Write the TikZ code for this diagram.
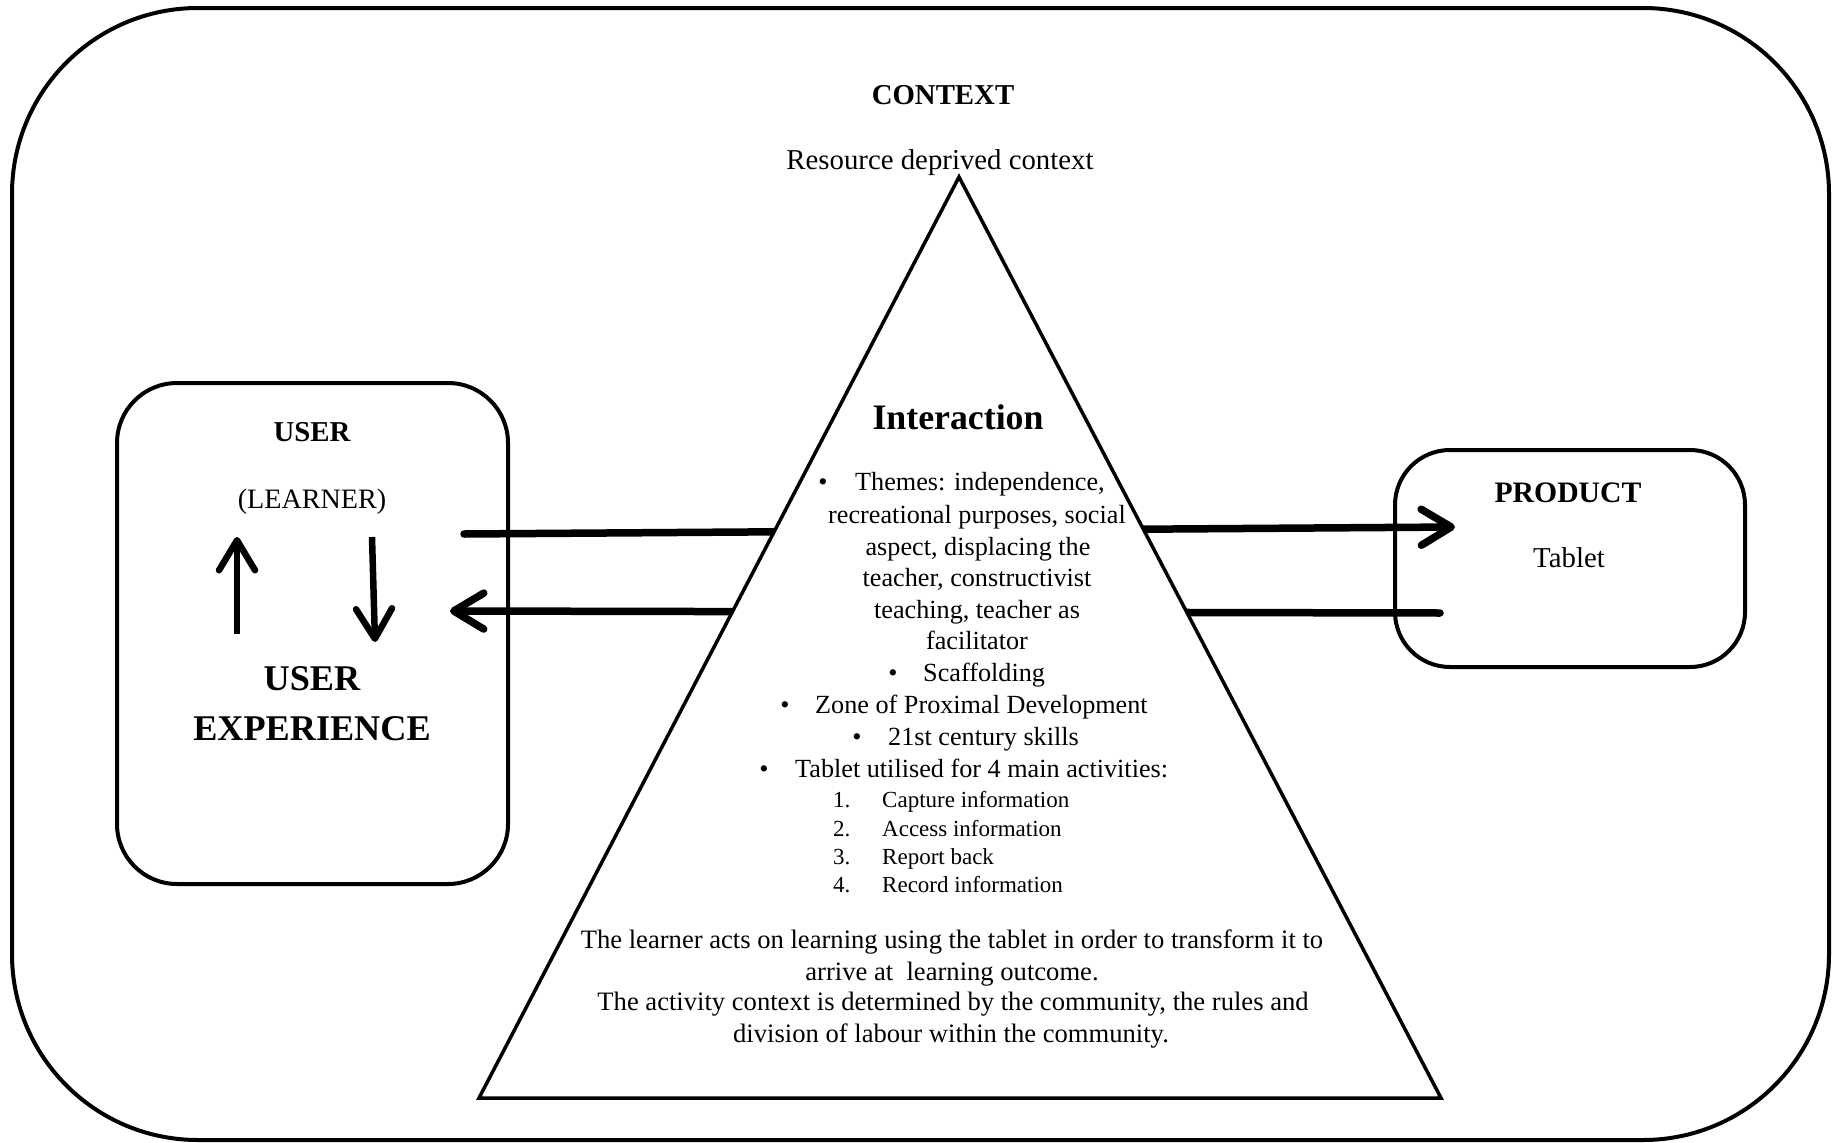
\documentclass[tikz,border=0pt]{standalone}
\usepackage{fontspec}
\setmainfont{Liberation Serif}
\usetikzlibrary{arrows.meta}
\newcommand\fsz[1]{\fontsize{#1pt}{#1pt}\selectfont}
\begin{document}
\begin{tikzpicture}[x=1pt,y=-1pt,
  every node/.style={inner sep=0pt, anchor=base},
  rbox/.style={draw, line width=4pt, rounded corners=#1, anchor=center},
  bigarrow/.style={line width=7.5pt, line cap=round,
    -{Straight Barb[length=30pt,width=36pt,round]}},
  smallarrow/.style={line width=6.5pt,
    -{Straight Barb[length=30pt,width=36pt,round]}},
  tri/.style={draw, line width=3.5pt, fill=white, line join=miter},
  hd/.style={font=\fsz{28.8}\bfseries},
  hdbig/.style={font=\fsz{36.2}\bfseries},
  body/.style={font=\fsz{28.8}},
  item/.style={font=\fsz{26.2}},
  sub/.style={font=\fsz{23}},
  para/.style={font=\fsz{26.6}}
]
\useasboundingbox (0,0) rectangle (1832,1143);

% outer context frame
\node[rbox=186pt, minimum width=1817pt, minimum height=1132pt] (frame) at (920.5,574) {};

% user and product boxes
\node[rbox=60pt, minimum width=391pt, minimum height=501pt] (userbox) at (312.5,633.5) {};
\node[rbox=55pt, minimum width=350pt, minimum height=217pt] (prodbox) at (1570,558.5) {};

% end points of the two long connectors
\coordinate (uout) at (464,534);
\coordinate (pin)  at (1455,527);
\coordinate (pout) at (1440,613);
\coordinate (uin)  at (450,611);
\draw[bigarrow] (uout) -- (pin);
\draw[bigarrow] (pout) -- (uin);

% loop arrows inside the user box
\coordinate (upA) at (237,634);
\coordinate (upB) at (237,537);
\coordinate (dnA) at (372,537);
\coordinate (dnB) at (375,642);
\draw[smallarrow] (upA) -- (upB);
\draw[smallarrow] (dnA) -- (dnB);

% interaction triangle
\coordinate (apex) at (959,177);
\coordinate (bl) at (479,1098);
\coordinate (br) at (1441,1098);
\draw[tri] (apex) -- (bl) -- (br) -- cycle;

% headings
\node[hd] (ctx) at (943,104.5) {CONTEXT};
\node[body] (rdc) at (940,169) {Resource deprived context};
\node[font=\fsz{35.8}\bfseries] (inter) at (958,429) {Interaction};

\node[hd] (user) at (312,441.5) {USER};
\node[font=\fsz{28.1}] (learner) at (312,508) {(LEARNER)};
\node[hdbig] (ux1) at (312,690) {USER};
\node[hdbig] (ux2) at (312,740) {EXPERIENCE};

\node[font=\fsz{29.7}\bfseries] (prod) at (1568,502) {PRODUCT};
\node[body] (tab) at (1569,567) {Tablet};

% bulleted themes
\node[item] (b1) at (823,490) {\textbullet};
\node[item, anchor=base west] (th1) at (855,490) {Themes: independence,};
\node[item] (th2) at (977,523) {recreational purposes, social};
\node[item] (th3) at (978,555) {aspect, displacing the};
\node[item] (th4) at (977,586) {teacher, constructivist};
\node[item] (th5) at (977,618) {teaching, teacher as};
\node[item] (th6) at (977,649) {facilitator};
\node[item] (b2) at (893,681) {\textbullet};
\node[item, anchor=base west] (scaf) at (923,681) {Scaffolding};
\node[item] (b3) at (785,713) {\textbullet};
\node[item, anchor=base west] (zpd) at (815,713) {Zone of Proximal Development};
\node[item] (b4) at (857,745) {\textbullet};
\node[item, anchor=base west] (skills) at (888,745) {21st century skills};
\node[item] (b5) at (764,777) {\textbullet};
\node[item, anchor=base west] (acts) at (795,777) {Tablet utilised for 4 main activities:};

% numbered activities
\node[sub, anchor=base west] (n1) at (833,807) {1.};
\node[sub, anchor=base west] (a1) at (882,807) {Capture information};
\node[sub, anchor=base west] (n2) at (833,836) {2.};
\node[sub, anchor=base west] (a2) at (882,836) {Access information};
\node[sub, anchor=base west] (n3) at (833,864) {3.};
\node[sub, anchor=base west] (a3) at (882,864) {Report back};
\node[sub, anchor=base west] (n4) at (833,892) {4.};
\node[sub, anchor=base west] (a4) at (882,892) {Record information};

% closing paragraph
\node[para] (p1) at (952,948) {The learner acts on learning using the tablet in order to transform it to};
\node[para] (p2) at (952,980) {arrive at\ \ learning outcome.};
\node[para] (p3) at (953,1010) {The activity context is determined by the community, the rules and};
\node[para] (p4) at (951,1042) {division of labour within the community.};
\end{tikzpicture}
\end{document}
